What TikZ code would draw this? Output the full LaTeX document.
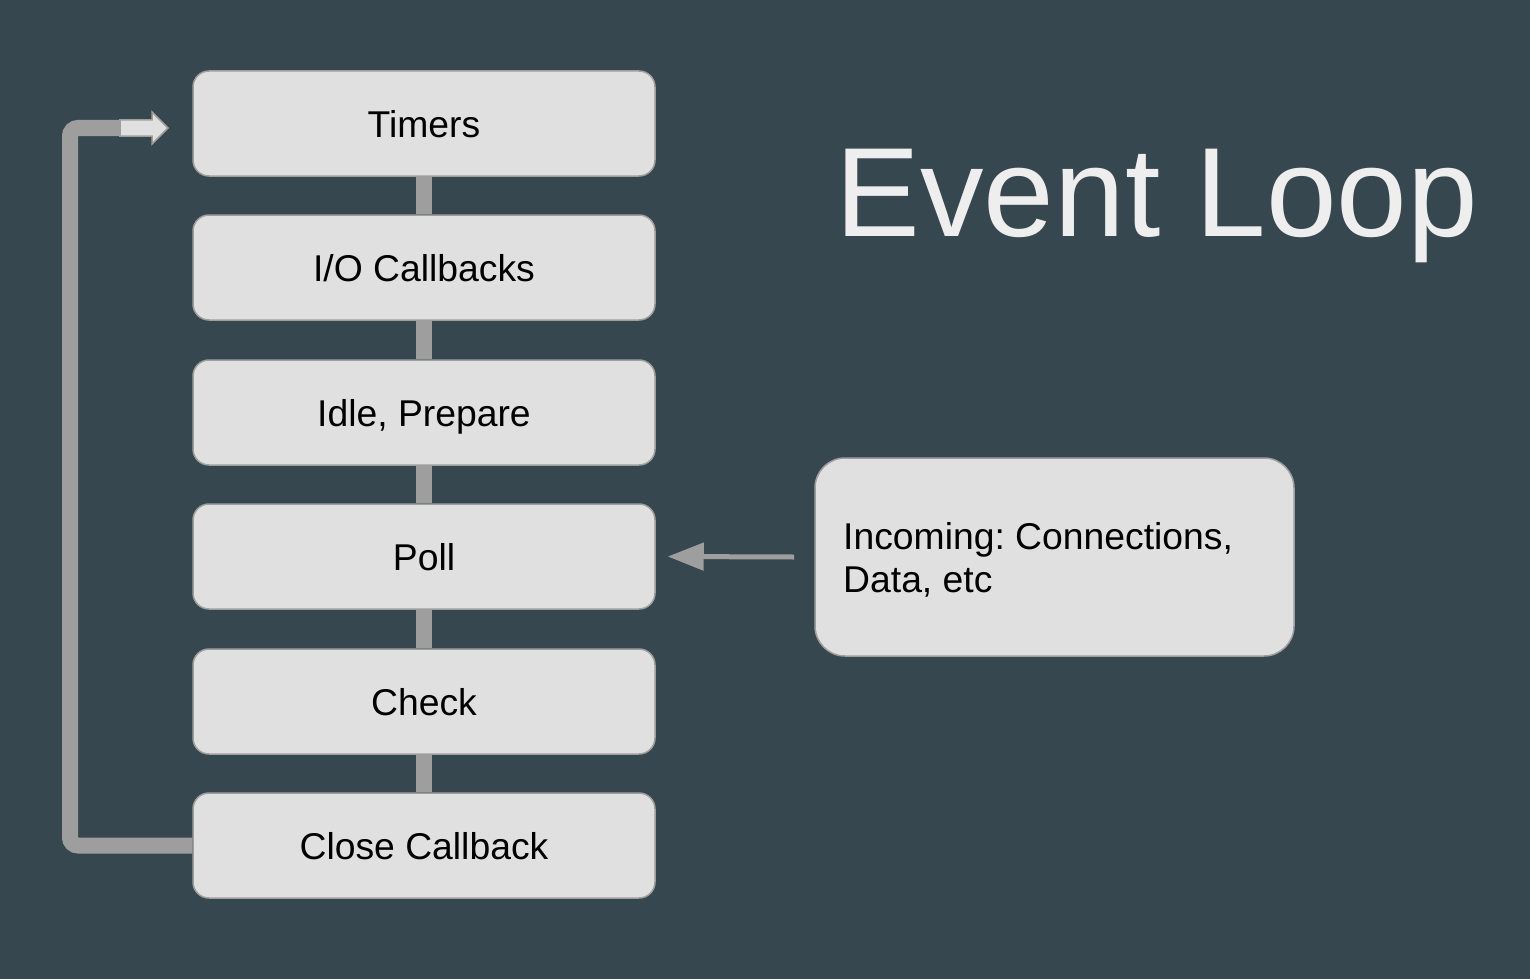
\documentclass[tikz,border=0pt]{standalone}
\usepackage{fontspec}
\setmainfont{Liberation Sans}
\usetikzlibrary{arrows.meta}
\definecolor{bg}{HTML}{37474F}
\definecolor{boxfill}{HTML}{E0E0E0}
\definecolor{conn}{HTML}{9E9E9E}
\definecolor{titlec}{HTML}{EEEEEE}
\frenchspacing
\begin{document}
\begin{tikzpicture}[x=1pt,y=-1pt,
  phase/.style={draw=conn,line width=1.5pt,fill=boxfill,rounded corners=16pt,
    minimum width=462pt,minimum height=105pt,inner sep=0pt,
    text height=27pt,text depth=0pt,
    font=\fontsize{37.3}{43}\selectfont,text=black},
  bar/.style={conn,line width=16pt},
]
\fill[bg] (0,0) rectangle (1530,979);
\useasboundingbox (0,0) rectangle (1530,979);
\node[phase] (timers) at (424,123.5) {Timers};
\node[phase] (io) at (424,267.5) {I/O Callbacks};
\node[phase] (idle) at (424,412.5) {Idle, Prepare};
\node[phase] (poll) at (424,556.5) {Poll};
\node[phase] (check) at (424,701.5) {Check};
\node[phase] (close) at (424,845.5) {Close Callback};
\draw[bar] (timers.south) -- (io.north);
\draw[bar] (io.south) -- (idle.north);
\draw[bar] (idle.south) -- (poll.north);
\draw[bar] (poll.south) -- (check.north);
\draw[bar] (check.south) -- (close.north);
% loop back
\coordinate (lb) at (70,845.5);
\coordinate (lt) at (70,128);
\coordinate (as) at (121,128);
\draw[conn,line width=16pt,rounded corners=8pt] (close.west) -- (lb) -- (lt) -- (as);
\draw[conn,line width=1.5pt,fill=boxfill,line join=miter]
  (120,120) -- (152,120) -- (152,112) -- (168,128) -- (152,144) -- (152,136) -- (120,136) -- cycle;
\fill[conn] (119,119.2) rectangle (121,136.8);
% incoming
\node[draw=conn,line width=1.5pt,fill=boxfill,rounded corners=30pt,
  minimum width=479pt,minimum height=198pt,inner sep=0pt] (inc) at (1054.5,557) {};
\node[anchor=north west,align=left,inner sep=0pt,font=\fontsize{37.3}{43}\selectfont,text=black]
  (inctext) at (843,522) {Incoming: Connections,\\Data, etc};
\coordinate (incstart) at (794,557);
\draw[conn,line width=5pt,-{Triangle[length=36pt,width=27pt]}] (incstart) -- ([xshift=12pt]poll.east);
% title
\node[text=titlec,font=\fontsize{127}{140}\selectfont,anchor=base,inner sep=0pt] (title) at (1157,236) {Event Loop};
\end{tikzpicture}
\end{document}
